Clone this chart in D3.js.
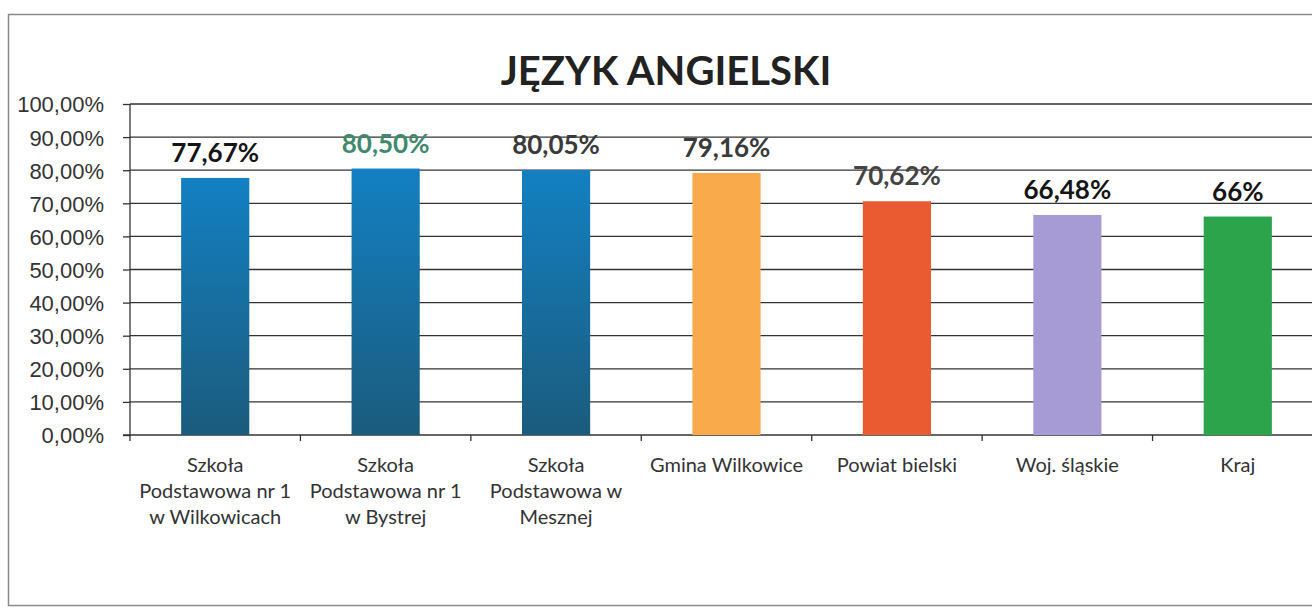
<!DOCTYPE html>
<html>
<head>
<meta charset="utf-8">
<style>
  body { margin: 0; background: #ffffff; font-family: "Lato", "Open Sans", sans-serif; }
  svg { display: block; }
  .axis text { fill: #333333; }
</style>
</head>
<body>
<div id="chart"></div>
<script src="https://cdn.jsdelivr.net/npm/d3@7"></script>
<script>
// data
var title = "JĘZYK ANGIELSKI";
var categories = [
  ["Szkoła", "Podstawowa nr 1", "w Wilkowicach"],
  ["Szkoła", "Podstawowa nr 1", "w Bystrej"],
  ["Szkoła", "Podstawowa w", "Mesznej"],
  ["Gmina Wilkowice"],
  ["Powiat bielski"],
  ["Woj. śląskie"],
  ["Kraj"]
];
var values = [77.67, 80.50, 80.05, 79.16, 70.62, 66.48, 66];
var valueLabels = ["77,67%", "80,50%", "80,05%", "79,16%", "70,62%", "66,48%", "66%"];
var yTicks = [0, 10, 20, 30, 40, 50, 60, 70, 80, 90, 100];

var W = 1312, H = 609;
var plotLeft = 130, plotRight = 1323, plotTop = 104, plotBottom = 435;

var barFill = ["url(#blueGrad)", "url(#blueGrad)", "url(#blueGrad)", "#f9aa4b", "#ea5b32", "#a79bd6", "#2ba44c"];
var labelColor = ["#151515", "#3f8a6c", "#3a3a3a", "#3a3a3a", "#444444", "#151515", "#151515"];

var svg = d3.select("#chart").append("svg")
    .attr("width", W)
    .attr("height", H);

var defs = svg.append("defs");
var grad = defs.append("linearGradient")
    .attr("id", "blueGrad")
    .attr("x1", 0).attr("y1", 0).attr("x2", 0).attr("y2", 1);
grad.append("stop").attr("offset", "0%").attr("stop-color", "#1380c2");
grad.append("stop").attr("offset", "100%").attr("stop-color", "#1b5b7c");

// chart frame
svg.append("rect")
    .attr("x", 8.5).attr("y", 14.5)
    .attr("width", W + 20).attr("height", 591)
    .attr("fill", "none")
    .attr("stroke", "#8a8a8a")
    .attr("stroke-width", 1.5);

svg.append("text")
    .attr("x", 666)
    .attr("y", 85)
    .attr("text-anchor", "middle")
    .style("font-size", "40px")
    .style("font-weight", "bold")
    .style("fill", "#222222")
    .text(title);

var x = d3.scaleBand()
    .domain(d3.range(categories.length))
    .range([plotLeft, plotRight])
    .paddingInner(0.6)
    .paddingOuter(0.3);

var y = d3.scaleLinear()
    .domain([0, 100])
    .range([plotBottom, plotTop]);

// gridlines
svg.append("g")
    .selectAll("line")
    .data(yTicks.slice(1))
    .enter().append("line")
    .attr("x1", plotLeft).attr("x2", W)
    .attr("y1", function(d){ return y(d); })
    .attr("y2", function(d){ return y(d); })
    .attr("stroke", "#333333")
    .attr("stroke-width", 1.3);

// y axis
var yAxis = d3.axisLeft(y)
    .tickValues(yTicks)
    .tickSize(7)
    .tickPadding(19)
    .tickFormat(function(d){ return d3.format(".2f")(d).replace(".", ",") + "%"; });

var gy = svg.append("g")
    .attr("class", "axis")
    .attr("transform", "translate(" + plotLeft + ",0)")
    .call(yAxis);
gy.selectAll("text").style("font-size", "22px").attr("dy", "0.36em");
gy.selectAll("line, path").attr("stroke", "#333333").attr("stroke-width", 1.3);
gy.select(".domain").attr("d", "M0," + plotTop + "V" + plotBottom);

// x axis line + boundary ticks
var step = x.step();
var bounds = d3.range(categories.length + 1).map(function(i){ return plotLeft + i * step; });
svg.append("line")
    .attr("x1", plotLeft - 7).attr("x2", W)
    .attr("y1", plotBottom).attr("y2", plotBottom)
    .attr("stroke", "#333333").attr("stroke-width", 1.3);
svg.append("g").selectAll("line")
    .data(bounds)
    .enter().append("line")
    .attr("x1", function(d){ return d; }).attr("x2", function(d){ return d; })
    .attr("y1", plotBottom).attr("y2", plotBottom + 6)
    .attr("stroke", "#333333").attr("stroke-width", 1.3);

// bars
svg.append("g").selectAll("rect")
    .data(values)
    .enter().append("rect")
    .attr("x", function(d, i){ return x(i); })
    .attr("y", function(d){ return y(d); })
    .attr("width", x.bandwidth())
    .attr("height", function(d){ return plotBottom - y(d); })
    .attr("fill", function(d, i){ return barFill[i]; });

// value labels
svg.append("g").selectAll("text")
    .data(values)
    .enter().append("text")
    .attr("x", function(d, i){ return x(i) + x.bandwidth() / 2; })
    .attr("y", function(d){ return y(d) - 16; })
    .attr("text-anchor", "middle")
    .style("font-size", "26px")
    .style("font-weight", "bold")
    .style("fill", function(d, i){ return labelColor[i]; })
    .text(function(d, i){ return valueLabels[i]; });

// category labels
var cat = svg.append("g").attr("class", "axis").selectAll("text")
    .data(categories)
    .enter().append("text")
    .attr("x", function(d, i){ return x(i) + x.bandwidth() / 2; })
    .attr("y", 472)
    .attr("text-anchor", "middle")
    .style("font-size", "20px");
cat.selectAll("tspan")
    .data(function(d){ return d; })
    .enter().append("tspan")
    .attr("x", function(){ return d3.select(this.parentNode).attr("x"); })
    .attr("dy", function(d, i){ return i === 0 ? 0 : 26; })
    .text(function(d){ return d; });
</script>
</body>
</html>
